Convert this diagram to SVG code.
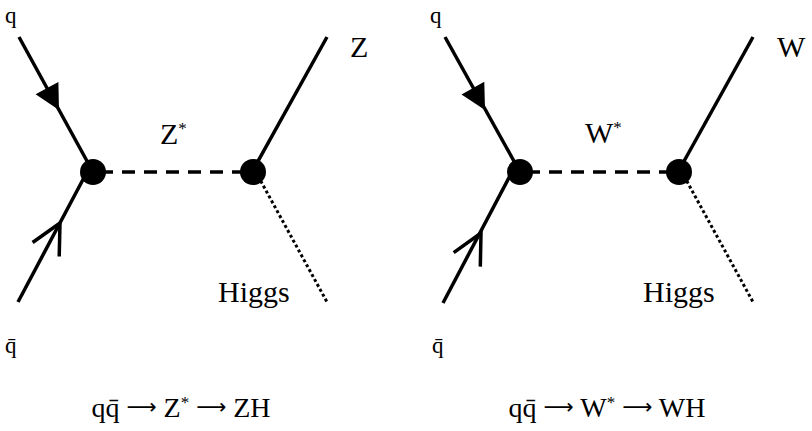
<svg xmlns="http://www.w3.org/2000/svg" width="812" height="431" viewBox="0 0 812 431">
<style>
.solid{stroke:#000;stroke-width:3.5;fill:none;stroke-linecap:butt}
.dash{stroke:#000;stroke-width:3.5;fill:none;stroke-dasharray:13 9}
.dot{stroke:#000;stroke-width:3;fill:none;stroke-dasharray:3 2.6}
.head{fill:#000;stroke:none}
.open{stroke:#000;stroke-width:3.5;fill:none;stroke-linejoin:miter}
.vx{fill:#000}
.lbl{font-family:"Liberation Serif","DejaVu Serif",serif;font-size:30px;fill:#000}
.q{font-family:"Liberation Serif","DejaVu Serif",serif;font-size:23px;fill:#000}
.cap{font-family:"Liberation Serif","DejaVu Serif",serif;font-size:28px;fill:#000}
.arr{font-family:"DejaVu Sans",sans-serif;font-size:21px}
.sup{font-size:17px}
</style>
<g id="connectors">
  <!-- left diagram -->
  <line class="solid" x1="19" y1="37" x2="93" y2="172"/>
  <polygon class="head" points="59,110 58.4,81.9 35.6,94.3"/>
  <line class="solid" x1="18" y1="302" x2="87" y2="172"/>
  <polyline class="open" points="32.6,242.5 60,223 59.2,256.5"/>
  <line class="dash" x1="100" y1="172" x2="252" y2="172"/>
  <line class="solid" x1="252" y1="172" x2="327" y2="37"/>
  <line class="dot" x1="258" y1="176" x2="327" y2="302"/>
  <!-- right diagram -->
  <line class="solid" x1="445" y1="37" x2="520" y2="172"/>
  <polygon class="head" points="485,110 484.3,81.8 461.5,94.4"/>
  <line class="solid" x1="443" y1="303" x2="512" y2="172"/>
  <polyline class="open" points="453.7,252.6 481,233 480.3,266.6"/>
  <line class="dash" x1="527" y1="172" x2="678" y2="172"/>
  <line class="solid" x1="678" y1="172" x2="753" y2="37"/>
  <line class="dot" x1="684" y1="176" x2="753" y2="302"/>
</g>
<g id="vertex-left-1"><circle class="vx" cx="93" cy="172" r="13"/></g>
<g id="vertex-left-2"><circle class="vx" cx="253" cy="172" r="13"/></g>
<g id="vertex-right-1"><circle class="vx" cx="520" cy="172" r="13"/></g>
<g id="vertex-right-2"><circle class="vx" cx="679" cy="172" r="13"/></g>
<g id="labels-left">
  <text class="q" x="5" y="23">q</text>
  <text class="q" x="5" y="353">q̄</text>
  <text class="lbl" x="160" y="144">Z<tspan class="sup" dy="-10">*</tspan></text>
  <text class="lbl" x="350" y="57">Z</text>
  <text class="lbl" x="218" y="302">Higgs</text>
  <text class="cap" x="181" y="417" text-anchor="middle">qq̄ <tspan class="arr" dy="-3">⟶</tspan><tspan dy="3"> Z</tspan><tspan class="sup" dy="-9">*</tspan><tspan dy="9"> </tspan><tspan class="arr" dy="-3">⟶</tspan><tspan dy="3"> ZH</tspan></text>
</g>
<g id="labels-right">
  <text class="q" x="430" y="23">q</text>
  <text class="q" x="432" y="353">q̄</text>
  <text class="lbl" x="585" y="143">W<tspan class="sup" dy="-10">*</tspan></text>
  <text class="lbl" x="777" y="57">W</text>
  <text class="lbl" x="643" y="302">Higgs</text>
  <text class="cap" x="607" y="417" text-anchor="middle">qq̄ <tspan class="arr" dy="-3">⟶</tspan><tspan dy="3"> W</tspan><tspan class="sup" dy="-9">*</tspan><tspan dy="9"> </tspan><tspan class="arr" dy="-3">⟶</tspan><tspan dy="3"> WH</tspan></text>
</g>
</svg>
